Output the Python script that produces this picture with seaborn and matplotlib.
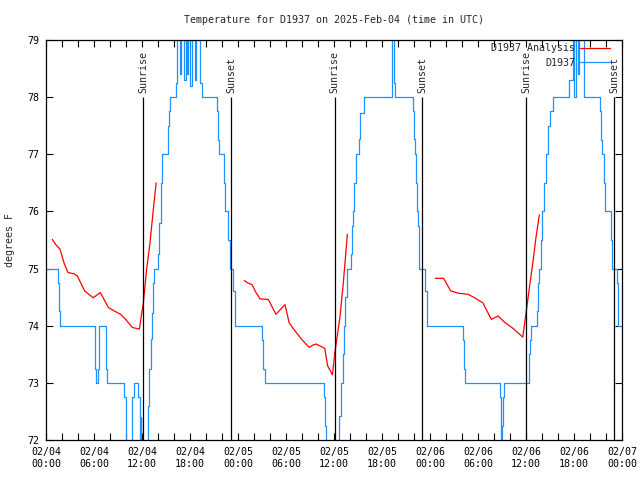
import matplotlib
matplotlib.use('Agg')
import matplotlib.pyplot as plt
from matplotlib.lines import Line2D
import pandas as pd
import seaborn as sns

# D1937 readings, hours since 2025-02-04 00:00 UTC, drawn as steps
blue_hours = [
  0, 1.5, 1.6, 1.75, 6.08, 6.25, 6.5, 6.67, 7.5, 7.67, 9.8, 9.96, 10.8, 10.96,
  11.54, 11.7, 11.83, 11.9, 12.75, 12.92, 13.08, 13.25, 13.375, 13.5, 14.0,
  14.125, 14.33, 14.46, 15.25, 15.375, 15.5, 16.25, 16.42, 16.75, 16.85, 17.25,
  17.45, 17.6, 17.75, 18.0, 18.3, 18.6, 18.75, 19.2, 19.3, 19.45, 21.33, 21.45,
  21.6, 22.25, 22.4,
  22.8, 22.95, 23.05, 23.4, 23.6, 27.0, 27.15, 27.35, 34.8, 34.9, 35.0, 36.67,
  36.875, 37.08, 37.29, 37.42, 37.625, 38.125, 38.25, 38.375, 38.5, 38.75, 39.08,
  39.29, 39.7, 43.2, 43.25, 43.46, 43.58, 45.83, 45.96, 46.08, 46.25, 46.375,
  46.5, 46.58, 46.67, 47.4, 47.6, 52.1, 52.25, 52.4, 56.7, 56.85, 56.9, 57.0,
  57.1, 57.2, 60.4, 60.5, 60.6, 61.42, 61.54, 61.625, 61.9, 62.0, 62.2, 62.45,
  62.7, 63.0, 63.42, 65.4, 65.9, 66.05, 66.2, 66.5, 66.6, 67.2, 69.25, 69.375,
  69.5, 69.8, 69.9, 70.67, 70.75, 70.8, 71.33, 71.46, 72.0,
]
blue_temps = [
  75, 74.75, 74.25, 74, 73.25, 73, 73.25, 74, 73.25, 73, 72.75, 71.5, 72.75, 73,
  72.75, 71.5, 72.4, 71.5, 72.6, 73.24, 73.76, 74.23, 74.75, 75, 75.25,
  75.8, 76.5, 77, 77.5, 77.75, 78, 78.25, 79.5, 78.4, 79.5, 78.3,
  79.5, 78.4, 79.5, 78.2, 79.5, 78.3, 79.5, 78.4, 78.25, 78, 77.75, 77.25,
  77, 76.5, 76,
  75.5, 75.25, 75, 74.6, 74, 73.75, 73.25, 73, 72.75, 72.25, 71.5, 72.42,
  73, 73.5, 74, 74.5, 75, 75.25, 75.74, 76, 76.5, 77, 77.26,
  77.73, 78, 78.25, 79.5, 78.25, 78, 77.75, 77.26, 77, 76.5, 76,
  75.74, 75.25, 75, 74.6, 74, 73.75, 73.25, 73, 72.75, 72.25, 71.5, 72.25,
  72.75, 73, 73.5, 73.75, 74, 74.25, 74.75, 75, 75.5, 76, 76.5, 77,
  77.5, 77.75, 78, 78.3, 79.5, 78, 79.5, 78.4, 79.5, 78, 77.75, 77.25,
  77, 76.5, 76, 75.5, 75.25, 75, 74.75, 74, 74,
]

# D1937 Analysis, one piece per night
night1_hours = [0.79, 1.21, 1.75, 2.25, 2.75, 3.5, 3.92, 4.83, 5.35, 5.9, 6.8, 7.25,
                7.79, 8.5, 9.33, 9.96, 10.79, 11.67, 12.17, 12.58, 13.0, 13.42, 13.77]
night1_temps = [75.51, 75.42, 75.34, 75.10, 74.93, 74.91, 74.87, 74.61, 74.55, 74.49, 74.58, 74.46,
                74.32, 74.26, 74.2, 74.11, 73.97, 73.94, 74.4, 74.99, 75.45, 76.04, 76.5]
night2_hours = [24.79, 25.2, 25.75, 26.25, 26.75, 27.8, 28.3, 28.75, 29.87, 30.4, 30.96, 31.96,
                32.9, 33.35, 33.75, 34.5, 34.85, 35.2, 35.8, 36.1, 36.75, 37.16, 37.67]
night2_temps = [74.79, 74.75, 74.72, 74.58, 74.47, 74.46, 74.32, 74.2, 74.37, 74.05, 73.94, 73.76,
                73.62, 73.66, 73.68, 73.63, 73.6, 73.3, 73.14, 73.52, 74.16, 74.74, 75.6]
night3_hours = [48.67, 49.7, 50.58, 51.5, 52.75, 53.58, 54.6, 55.67, 56.5, 57.33, 58.4, 59.6,
                60.0, 60.5, 60.9, 61.25, 61.67]
night3_temps = [74.83, 74.83, 74.61, 74.57, 74.55, 74.49, 74.4, 74.11, 74.17, 74.06, 73.95, 73.80,
                74.22, 74.74, 75.15, 75.55, 75.94]

sunrise_hours = [12.15, 36.1, 60.06]
sunset_hours = [23.15, 47.02, 71.06]

tick_hours = list(range(0, 73, 6))
tick_labels = [
  '02/04\n00:00', '02/04\n06:00', '02/04\n12:00', '02/04\n18:00',
  '02/05\n00:00', '02/05\n06:00', '02/05\n12:00', '02/05\n18:00',
  '02/06\n00:00', '02/06\n06:00', '02/06\n12:00', '02/06\n18:00',
  '02/07\n00:00',
]

RED = 'red'
BLUE = '#1e90ff'

red = pd.concat([
  pd.DataFrame({'hour': night1_hours, 'temp': night1_temps, 'night': 1}),
  pd.DataFrame({'hour': night2_hours, 'temp': night2_temps, 'night': 2}),
  pd.DataFrame({'hour': night3_hours, 'temp': night3_temps, 'night': 3}),
])
blue = pd.DataFrame({'hour': blue_hours, 'temp': blue_temps})

sns.set_style('ticks')
plt.rcParams['font.family'] = ['DejaVu Sans Mono']
plt.rcParams['font.size'] = 7.2

fig = plt.figure(figsize=(6.4, 4.8), dpi=100)
ax = fig.add_axes([46/640, 40/480, 576/640, 400/480])

for night, seg in red.groupby('night'):
  sns.lineplot(data=seg, x='hour', y='temp', ax=ax, color=RED, lw=0.9,
               estimator=None, legend=False)
sns.lineplot(data=blue, x='hour', y='temp', ax=ax, color=BLUE, lw=0.9,
             estimator=None, sort=False, drawstyle='steps-post', legend=False)

ax.vlines(sunrise_hours + sunset_hours, 72, 78, color='black', lw=0.9)
for h in sunrise_hours:
  ax.text(h, 78.08, 'Sunrise', rotation=90, ha='center', va='bottom')
for h in sunset_hours:
  ax.text(h, 78.08, 'Sunset', rotation=90, ha='center', va='bottom')

ax.set_xlim(0, 72)
ax.set_ylim(72, 79)
ax.set_xticks(tick_hours)
ax.set_xticklabels(tick_labels)
ax.set_xticks(range(0, 73, 2), minor=True)
ax.set_yticks(range(72, 80))
ax.tick_params(which='both', direction='in', top=True, right=True,
               length=5, width=0.8, colors='black', labelsize=7.2)
ax.tick_params(axis='y', pad=5)
ax.tick_params(axis='x', pad=5)
ax.set_xlabel('')
ax.set_ylabel('')
for sp in ax.spines.values():
  sp.set_visible(True)
  sp.set_linewidth(0.9)
  sp.set_color('black')

# plain line samples in the key, as gnuplot draws them
handles = [Line2D([], [], color=RED, lw=0.9), Line2D([], [], color=BLUE, lw=0.9)]
ax.legend(handles, ['D1937 Analysis', 'D1937'],
          loc='upper right', bbox_to_anchor=(0.979, 0.992), frameon=False,
          markerfirst=False, borderaxespad=0, borderpad=0, handlelength=3.0,
          handletextpad=0.5, labelspacing=0.45, fontsize=7.2)

fig.text(334/640, 1 - 20/480, 'Temperature for D1937 on 2025-Feb-04 (time in UTC)',
         ha='center', va='center')
fig.text(10/640, 0.5, 'degrees F', rotation=90, ha='center', va='center')

fig.savefig('out.png', dpi=100)
